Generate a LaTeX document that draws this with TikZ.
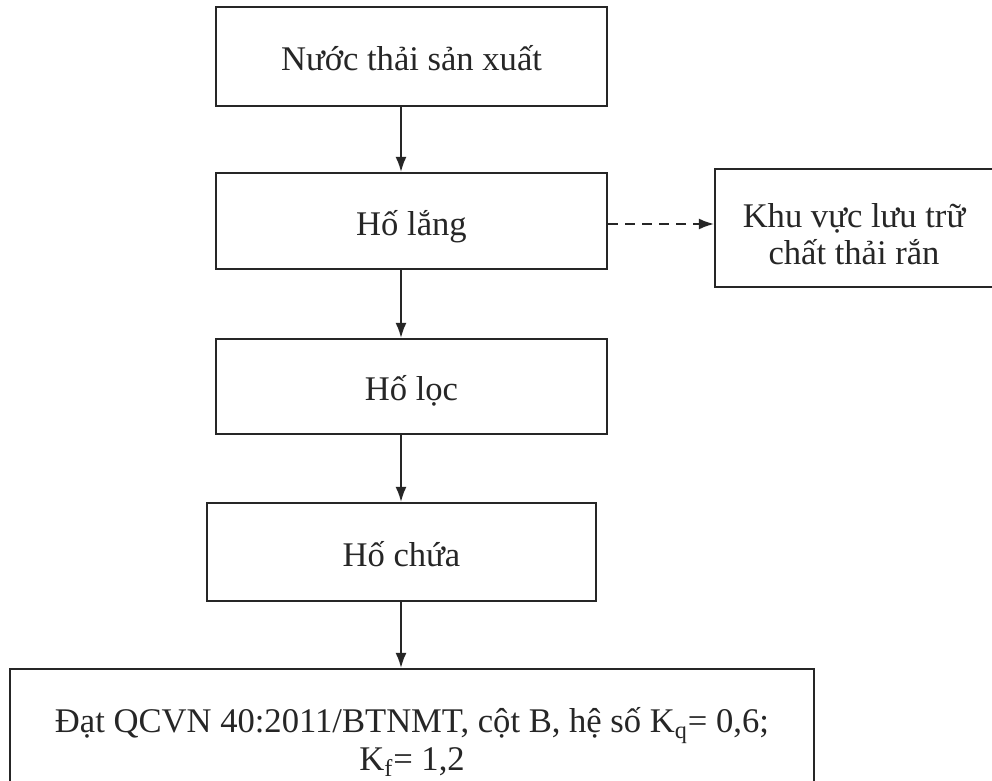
\documentclass[tikz,border=0pt]{standalone}
\usepackage{fontspec}
\setmainfont{Liberation Serif}
\usetikzlibrary{arrows.meta}
\begin{document}
\begin{tikzpicture}[x=0.5pt,y=-0.5pt,
  frame/.style={draw=black!85, line width=1.1pt, inner sep=0pt, text=black!85,
    font=\fontsize{17.3}{19}\selectfont},
  box/.style={frame, align=center},
  onebox/.style={frame, text height=15pt, text depth=1pt},
  flow/.style={draw=black!85, -{Latex[length=7.5pt,width=5.5pt]}, line width=0.9pt},
  dflow/.style={flow, dash pattern=on 5pt off 3.5pt}]
\useasboundingbox (0,0) rectangle (992,781);
\clip (0,0) rectangle (992,781);
\fill[white] (0,0) rectangle (992,781);
\coordinate (ax) at (401,0);
\coordinate (dy) at (0,224);
\node[onebox, minimum width=195.5pt, minimum height=49.5pt] (n1) at (411.5,56.5) {Nước thải sản xuất};
\node[onebox, minimum width=195.5pt, minimum height=48pt] (n2) at (411.5,221) {Hố lắng};
\node[onebox, minimum width=195.5pt, minimum height=47.5pt] (n3) at (411.5,386.5) {Hố lọc};
\node[onebox, minimum width=194.5pt, minimum height=49pt] (n4) at (401.5,552) {Hố chứa};
\node[box, minimum width=402pt, minimum height=73pt] (n5) at (412,742) {Đạt QCVN 40:2011/BTNMT, cột B, hệ số K\textsubscript{q}= 0,6;\\K\textsubscript{f}= 1,2};
\node[frame, font=\fontsize{17.3}{18.5}\selectfont, text height=28pt, text depth=9pt,
  minimum width=139pt, minimum height=59pt] (k) at (854,228)
  {\begin{tabular}{@{}c@{}}Khu vực lưu trữ\\chất thải rắn\end{tabular}};
\draw[flow] (n1.south -| ax) -- (n2.north -| ax);
\draw[flow] (n2.south -| ax) -- (n3.north -| ax);
\draw[flow] (n3.south -| ax) -- (n4.north -| ax);
\draw[flow] (n4.south -| ax) -- (n5.north -| ax);
\draw[dflow] (n2.east |- dy) -- (k.west |- dy);
\end{tikzpicture}
\end{document}
